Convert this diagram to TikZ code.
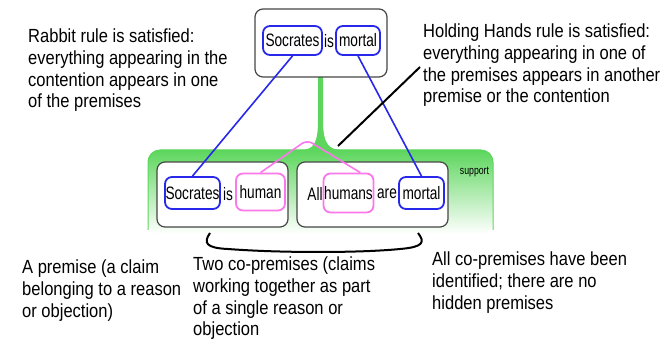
\documentclass[tikz,border=0pt]{standalone}
\usepackage{fontspec}
\setmainfont{Liberation Sans}[FakeStretch=0.87]
\newfontfamily\wordfont{Liberation Sans}[FakeStretch=0.76]
\usetikzlibrary{calc}

\definecolor{supgreen}{RGB}{92,214,92}
\definecolor{wordblue}{RGB}{40,40,235}
\definecolor{wordpink}{RGB}{250,120,235}
\definecolor{boxgray}{RGB}{70,70,70}

\tikzset{
  claimbox/.style={draw=boxgray, fill=white, rounded corners=8, line width=1.2pt, inner sep=0pt},
  wordbox/.style={rounded corners=7, line width=1.8pt, inner sep=0pt, font=\wordfont\fontsize{18}{20}\selectfont},
  word/.style={inner sep=0pt, font=\wordfont\fontsize{18}{20}\selectfont},
  note/.style={align=left, inner sep=0pt, anchor=north west, font=\fontsize{19}{21.6}\selectfont},
}

\begin{document}
\begin{tikzpicture}[x=1pt,y=-1pt]
\useasboundingbox (0,0) rectangle (664,363);

\shade[top color=supgreen, bottom color=white, rounded corners=12] (148,234) |- (320,150) -| (493,234) -- cycle;
\draw[supgreen, line width=1pt, rounded corners=12] (148,230) |- (320,150) -| (493,230);
\fill[supgreen] (318,76) -- (318,120) .. controls (318,143) and (314,150) .. (300,150) -- (342,150) .. controls (328,150) and (323,143) .. (323,120) -- (323,76) -- cycle;

\node[claimbox, minimum width=132, minimum height=68] (contention) at (321,43) {};
\node[wordbox, draw=wordblue, minimum width=59, minimum height=29] (cSoc) at (292.5,40.5) {Socrates};
\node[word] (cIs) at (329,41) {is};
\node[wordbox, draw=wordblue, minimum width=44, minimum height=29] (cMor) at (358,40.5) {mortal};

\node[claimbox, minimum width=131, minimum height=65] (premA) at (222.5,194.5) {};
\node[wordbox, draw=wordblue, minimum width=55, minimum height=32] (pSoc) at (192.5,193) {Socrates};
\node[word] (pIs) at (228,194) {is};
\node[wordbox, draw=wordpink, minimum width=49, minimum height=37] (pHum) at (260.5,192) {human};

\node[claimbox, minimum width=151, minimum height=65] (premB) at (372.5,194.5) {};
\node[word] (pAll) at (315,194) {All};
\node[wordbox, draw=wordpink, minimum width=50, minimum height=39] (pHums) at (348.5,193) {humans};
\node[word] (pAre) at (387,194) {are};
\node[wordbox, draw=wordblue, minimum width=45, minimum height=32] (pMor) at (421.5,193) {mortal};

\node[font=\wordfont\fontsize{11.5}{13}\selectfont] (suplabel) at (474.5,172) {support};

\draw[wordblue, line width=1.6pt] (cSoc.south) -- (pSoc.north);
\draw[wordblue, line width=1.6pt] (cMor.south) -- (pMor.north);
\coordinate (peak) at (307,140);
\draw[wordpink, line width=1.6pt, rounded corners=6] (pHum.north) -- (peak) -- (pHums.60);

\coordinate (hhtip) at (338,146);
\coordinate (hhend) at (420,67);
\draw[line width=2pt] (hhtip) -- (hhend);

\coordinate (brL) at (210,233);
\coordinate (brR) at (418,233);
\draw[line width=2pt] (brL) .. controls (203,243) and (206,248) .. (228,249) .. controls (280,253) and (360,253) .. (400,249) .. controls (424,247) and (425,242) .. (brR);

\node[note] (rabbit) at (28,29) {Rabbit rule is satisfied:\\everything appearing in the\\contention appears in one\\of the premises};
\node[note] (holding) at (423,24) {Holding Hands rule is satisfied:\\everything appearing in one of\\the premises appears in another\\premise or the contention};
\node[note] (onepremise) at (22,260) {A premise (a claim\\belonging to a reason\\or objection)};
\node[note] (copremises) at (193,257) {Two co-premises (claims\\working together as part\\of a single reason or\\objection};
\node[note] (allfound) at (432,252) {All co-premises have been\\identified; there are no\\hidden premises};

\end{tikzpicture}
\end{document}
